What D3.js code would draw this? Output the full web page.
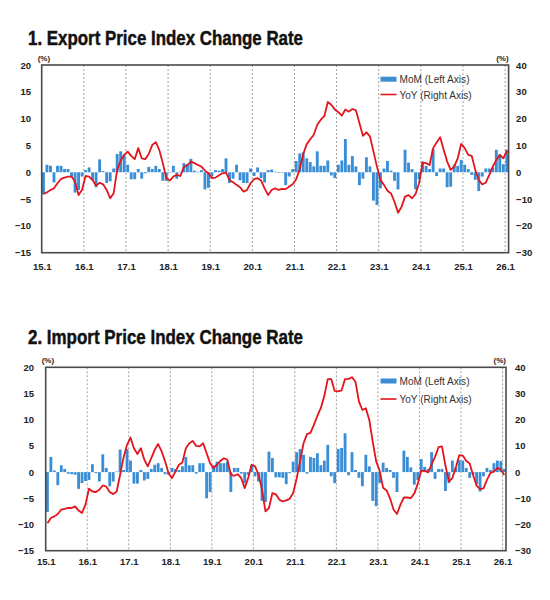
<!DOCTYPE html>
<html>
<head>
<meta charset="utf-8">
<script src="https://cdn.jsdelivr.net/npm/d3@7"></script>
<style>
  body { margin: 0; background: #fff; }
  svg { display: block; font-family: "Liberation Sans", Arial, sans-serif; }
</style>
</head>
<body>
<div id="chart"></div>
<script>

// monthly categories, 15.1 .. 26.1
const firstYear = 15
const monthCount = 133
const months = d3.range(monthCount).map(i => `${firstYear + Math.floor(i / 12)}.${i % 12 + 1}`)

const yearTicks = ['15.1', '16.1', '17.1', '18.1', '19.1', '20.1', '21.1', '22.1', '23.1', '24.1', '25.1', '26.1']
const leftTicks = [-15, -10, -5, 0, 5, 10, 15, 20]
const rightTicks = [-30, -20, -10, 0, 10, 20, 30, 40]

// 1. export price index (%), MoM on left axis, YoY on right axis
const exportMoM = [
    -4.1, 1.4, 1.2, -1.9, 1.2, 1.2, 0.6, 0.6, -0.8, -3.8, -3.3, -0.8,
    0.4, 0.9, -1.4, -2.8, 2.4, 0.2, -2.0, -1.7, 0.7, 3.4, 3.9, 3.2,
    1.4, -1.3, -1.3, 0.6, -1.2, -0.2, 1.0, 0.6, 1.2, 0.6, -1.6, -1.6,
    -0.1, 1.2, -1.2, 0.1, 1.7, 1.5, 2.5, 0.3, 0.1, 0.4, -3.2, -2.9,
    -0.8, 0.4, 0.3, 0.6, 2.6, -2.0, -1.2, 1.4, -1.5, -2.0, -2.0, 0.7,
    -0.7, 0.9, -1.1, -1.9, 0.4, 0.5, 0.1, -0.1, -0.1, -2.4, -0.8, 0.6,
    2.1, 3.5, 3.7, 2.6, 1.9, 1.1, 3.9, 1.2, 1.2, 2.2, -0.6, -1.1,
    1.4, 2.2, 6.2, 1.4, 3.0, 1.1, -2.4, -1.2, 2.8, 1.1, -5.3, -6.1,
    -3.0, 0.7, 2.1, 0.3, -1.6, -3.2, 0.0, 4.2, 1.8, 0.6, -3.2, -1.3,
    2.0, 1.2, 0.6, 4.3, -0.7, 0.7, 0.7, -2.8, -2.7, 1.4, 1.2, 2.3,
    1.4, 0.6, -0.5, -1.4, -3.5, -0.8, 0.7, 0.7, 0.9, 4.2, 3.3, 1.5,
    4.2
]
const exportYoY = [
    -8.1, -7.5, -6.6, -6.0, -4.1, -2.5, -2.0, -1.6, -1.6, -3.5, -8.5, -6.5,
    -1.4, -1.6, -2.9, -5.0, -3.9, -4.5, -6.6, -9.7, -7.8, 0.9, 4.4, 6.5,
    7.7, 6.1, 4.9, 9.0, 5.2, 4.9, 6.8, 10.2, 11.2, 8.3, 3.4, -2.2,
    -3.1, -1.6, -1.0, -1.4, 1.9, 2.7, 4.0, 3.4, 2.7, 2.1, 0.6, -0.4,
    -2.2, -2.0, -1.1, -0.4, -0.1, -2.9, -3.7, -4.7, -5.6, -7.2, -6.6, -4.1,
    -2.6, -2.2, -3.1, -6.0, -8.5, -6.6, -6.0, -6.6, -6.2, -6.3, -5.3, -4.5,
    -2.6, 1.2, 6.8, 10.5, 12.3, 14.0, 17.7, 19.6, 20.9, 26.2, 25.2, 23.4,
    22.4, 21.1, 23.4, 22.6, 23.6, 23.1, 18.4, 13.6, 14.9, 13.4, 7.8, 2.1,
    -2.9, -4.7, -6.9, -7.9, -11.0, -15.1, -12.9, -9.1, -8.5, -9.7, -8.1, -4.1,
    3.6, 3.4, 2.7, 9.0, 11.1, 13.1, 8.4, 4.0, 0.9, 2.1, 5.2, 10.6,
    9.0, 6.5, 6.1, 0.9, -2.9, -4.5, -3.9, -1.0, 2.1, 4.6, 6.5, 5.2,
    8.1
]

// 2. import price index (%)
const importMoM = [
    -7.6, 2.9, 0.3, -2.5, 1.3, 0.6, -0.3, -0.4, -0.5, -3.2, -2.1, -1.7,
    -1.5, 1.5, -0.2, -1.8, 3.4, 0.8, -2.7, -1.8, 0.1, 4.3, 0.4, 4.4,
    2.2, -2.2, -2.2, 0.4, -1.6, -1.3, 0.6, 1.4, 1.7, 0.8, -0.4, -0.5,
    0.8, 0.6, 0.4, 1.1, 2.9, 1.3, 1.3, -0.3, 1.7, 1.7, -5.0, -3.8,
    1.3, 2.0, 1.7, 1.7, 2.0, -3.8, 0.8, 0.8, -0.3, -2.1, -0.5, 1.3,
    -0.8, -1.8, -5.5, -5.7, 3.9, 2.7, -1.0, -1.0, -1.1, -2.3, -0.2, 2.0,
    3.8, 4.4, 3.3, -0.3, 2.9, 2.7, 3.6, 1.3, 2.2, 5.2, -0.8, -2.1,
    4.4, 4.6, 7.4, -0.6, 3.8, 0.4, -1.1, -2.7, 3.3, 1.1, -5.5, -6.5,
    -2.1, 1.8, 0.8, 0.4, -1.1, -3.8, 0.0, 4.1, 2.9, 0.9, -2.4, -1.5,
    2.5, 1.0, 0.6, 3.8, -1.3, 0.6, 0.6, -3.6, -2.1, 2.2, 0.8, 2.3,
    2.2, 0.8, -1.1, -0.5, -2.3, -3.7, -0.8, 0.8, 0.4, 1.7, 2.2, 2.1,
    0.6
]
const importYoY = [
    -19.5, -17.5, -16.9, -16.0, -14.3, -14.0, -13.7, -13.7, -13.1, -14.7, -15.6, -12.4,
    -6.3, -7.4, -7.6, -6.7, -5.1, -5.5, -7.6, -8.4, -7.4, -1.0, 5.6, 10.4,
    13.2, 9.1, 6.9, 9.1, 4.7, 2.2, 5.3, 8.5, 10.7, 7.9, 4.1, -0.4,
    -2.3, 0.3, 2.8, 3.7, 9.1, 11.0, 11.9, 10.0, 9.8, 11.0, 7.2, 3.4,
    1.5, 2.8, 4.3, 5.3, 4.7, -1.0, -1.4, -0.8, -2.3, -6.1, -2.3, 2.8,
    2.2, -1.0, -6.7, -15.0, -13.7, -8.0, -8.5, -10.5, -11.2, -10.8, -10.2, -8.0,
    -2.5, 4.0, 11.0, 14.5, 15.0, 18.0, 21.5, 24.5, 29.0, 35.5, 35.5, 31.0,
    30.8, 31.2, 35.5, 35.6, 36.2, 34.5, 27.0, 23.7, 24.4, 19.9, 11.5, 4.0,
    0.5, -6.0, -7.0, -10.0, -14.3, -16.0, -12.4, -9.7, -9.7, -9.9, -8.2, -4.5,
    0.5, 0.5, -0.1, 3.0, 5.8, 9.5, 9.8, 2.5, -3.6, -2.3, 1.8, 6.5,
    6.3, 4.3, 3.3, -1.2, -5.2, -6.5, -6.2, -3.0, -0.3, 0.2, 1.6, 1.0,
    -1.1
]

const legendLabels = ['MoM (Left Axis)', 'YoY (Right Axis)']

////////////////////////////////////
////////////// globals /////////////
////////////////////////////////////

const barColor = '#3a8ed6'
const lineColor = '#e3141c'

const svg = d3.select('#chart')
    .append('svg')
    .attr('width', 550)
    .attr('height', 600)

const panels = [
    {
        title: '1. Export Price Index Change Rate', titleY: 45,
        mom: exportMoM, yoy: exportYoY,
        x0: 41.7, x1: 508.6, y0: 65, y1: 252.7,
        leftPad: 10.7, rightPad: 7.5, xLabelY: 270,
        legendY: 79.2, legendY2: 94.5
    },
    {
        title: '2. Import Price Index Change Rate', titleY: 343.5,
        mom: importMoM, yoy: importYoY,
        x0: 45.7, x1: 506, y0: 367.3, y1: 550.7,
        leftPad: 11.7, rightPad: 9, xLabelY: 565,
        legendY: 381, legendY2: 399
    }
]

panels.forEach(drawPanel)

function drawPanel(p) {

    const g = svg.append('g')

    // scales
    const xl = d3.scaleLinear()
        .domain([0, monthCount])
        .range([p.x0, p.x1])

    const xb = d3.scaleBand()
        .domain(months)
        .range([p.x0, p.x1])
        .paddingInner(0.18)
        .paddingOuter(0.09)

    const yL = d3.scaleLinear().domain([-15, 20]).range([p.y1, p.y0])
    const yR = d3.scaleLinear().domain([-30, 40]).range([p.y1, p.y0])

    // title
    g.append('text')
        .attr('x', 28)
        .attr('y', p.titleY)
        .attr('font-size', 19.5)
        .attr('font-weight', 'bold')
        .attr('fill', '#111')
        .attr('stroke', '#111')
        .attr('stroke-width', 0.45)
        .attr('textLength', 275)
        .attr('lengthAdjust', 'spacingAndGlyphs')
        .text(p.title)

    // year gridlines
    g.append('g')
        .selectAll('line')
        .data(yearTicks.slice(1))
        .join('line')
        .attr('x1', d => xl(months.indexOf(d)))
        .attr('x2', d => xl(months.indexOf(d)))
        .attr('y1', p.y0)
        .attr('y2', p.y1)
        .attr('stroke', '#888')
        .attr('stroke-width', 0.8)
        .attr('stroke-dasharray', '2,2')

    // MoM bars
    g.append('g')
        .selectAll('rect')
        .data(p.mom)
        .join('rect')
        .attr('x', (d, i) => xb(months[i]))
        .attr('width', xb.bandwidth())
        .attr('y', d => yL(Math.max(0, d)))
        .attr('height', d => Math.abs(yL(d) - yL(0)))
        .attr('fill', barColor)

    // YoY line
    const line = d3.line()
        .x((d, i) => xb(months[i]) + xb.bandwidth() / 2)
        .y(d => yR(d))

    g.append('path')
        .attr('d', line(p.yoy))
        .attr('fill', 'none')
        .attr('stroke', lineColor)
        .attr('stroke-width', 1.8)
        .attr('stroke-linejoin', 'round')

    // frame
    g.append('rect')
        .attr('x', p.x0)
        .attr('y', p.y0)
        .attr('width', p.x1 - p.x0)
        .attr('height', p.y1 - p.y0)
        .attr('fill', 'none')
        .attr('stroke', '#4a4a4a')
        .attr('stroke-width', 1.6)

    // axes
    const left = g.append('g')
        .attr('transform', `translate(${p.x0},0)`)
        .call(d3.axisLeft(yL).tickValues(leftTicks).tickSize(0).tickPadding(p.leftPad))

    const right = g.append('g')
        .attr('transform', `translate(${p.x1},0)`)
        .call(d3.axisRight(yR).tickValues(rightTicks).tickSize(0).tickPadding(p.rightPad))

    const bottom = g.append('g')
        .attr('transform', `translate(0,${p.y1})`)
        .call(d3.axisBottom(xl)
            .tickValues(yearTicks.map(t => months.indexOf(t)))
            .tickFormat(i => months[i])
            .tickSize(0))

    bottom.selectAll('text')
        .attr('y', p.xLabelY - p.y1)
        .attr('dy', 0)

    ;[left, right, bottom].forEach(a => {
        a.select('.domain').remove()
        a.selectAll('text')
            .attr('font-family', '"Liberation Sans", Arial, sans-serif')
            .attr('font-size', 9.5)
            .attr('font-weight', 'bold')
            .attr('fill', '#222')
    })

    // unit labels
    g.append('text')
        .attr('x', p.x0 - 4)
        .attr('y', p.y0 - 4)
        .attr('font-size', 8)
        .attr('font-weight', 'bold')
        .attr('fill', '#222')
        .text('(%)')

    g.append('text')
        .attr('x', p.x1)
        .attr('y', p.y0 - 4)
        .attr('text-anchor', 'end')
        .attr('font-size', 8)
        .attr('font-weight', 'bold')
        .attr('fill', '#222')
        .text('(%)')

    // legend
    const lg = g.append('g')

    lg.append('rect')
        .attr('x', 380.5)
        .attr('y', p.legendY - 2.5)
        .attr('width', 16)
        .attr('height', 5)
        .attr('fill', barColor)

    lg.append('line')
        .attr('x1', 380.5)
        .attr('x2', 396.5)
        .attr('y1', p.legendY2)
        .attr('y2', p.legendY2)
        .attr('stroke', lineColor)
        .attr('stroke-width', 1.6)

    lg.selectAll('text')
        .data(legendLabels)
        .join('text')
        .attr('x', 399.5)
        .attr('y', (d, i) => i == 0 ? p.legendY : p.legendY2)
        .attr('dy', '0.35em')
        .attr('font-size', 11.5)
        .attr('fill', '#333')
        .attr('textLength', (d, i) => i == 0 ? 70 : 72)
        .attr('lengthAdjust', 'spacingAndGlyphs')
        .text(d => d)
}

</script>
</body>
</html>
